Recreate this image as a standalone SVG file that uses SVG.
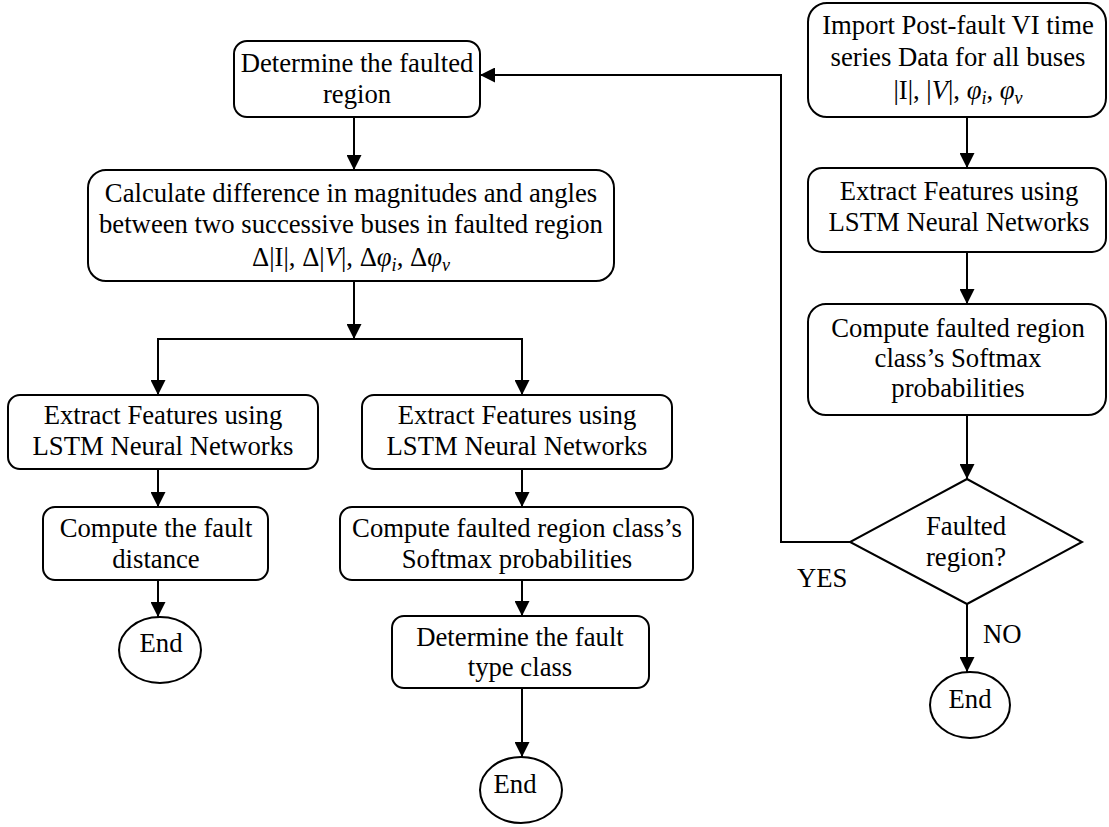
<svg xmlns="http://www.w3.org/2000/svg" width="1109" height="827" viewBox="0 0 1109 827">
<defs>
<style>
.box{fill:#fff;stroke:#000;stroke-width:2}
.t{font-family:"Liberation Serif","Times New Roman",serif;font-size:26.7px;fill:#000;text-anchor:middle}
.l{font-family:"Liberation Serif","Times New Roman",serif;font-size:26.7px;fill:#000}
.it{font-style:italic}
.sub{font-style:italic;font-size:18px}
.c{fill:none;stroke:#000;stroke-width:2}
</style>
<marker id="ah" markerUnits="userSpaceOnUse" markerWidth="15" markerHeight="15" refX="15" refY="7.5" orient="auto">
<path d="M0,0 L15,7.5 L0,15 Z" fill="#000"/>
</marker>
</defs>
<rect width="1109" height="827" fill="#fff"/>

<g id="connectors">
<line class="c" x1="354" y1="117" x2="354" y2="170" marker-end="url(#ah)"/>
<line class="c" x1="354" y1="281" x2="354" y2="339" marker-end="url(#ah)"/>
<polyline class="c" points="158,395 158,339 522,339 522,395"/>
<line class="c" x1="158" y1="339" x2="158" y2="395" marker-end="url(#ah)"/>
<line class="c" x1="522" y1="339" x2="522" y2="395" marker-end="url(#ah)"/>
<line class="c" x1="158" y1="469" x2="158" y2="507" marker-end="url(#ah)"/>
<line class="c" x1="158" y1="580" x2="158" y2="617" marker-end="url(#ah)"/>
<line class="c" x1="522" y1="469" x2="522" y2="507" marker-end="url(#ah)"/>
<line class="c" x1="522" y1="580" x2="522" y2="616" marker-end="url(#ah)"/>
<line class="c" x1="522" y1="688" x2="522" y2="757" marker-end="url(#ah)"/>
<line class="c" x1="967" y1="117" x2="967" y2="168" marker-end="url(#ah)"/>
<line class="c" x1="967" y1="252" x2="967" y2="304" marker-end="url(#ah)"/>
<line class="c" x1="967" y1="415" x2="967" y2="479" marker-end="url(#ah)"/>
<line class="c" x1="967" y1="604" x2="967" y2="672" marker-end="url(#ah)"/>
<polyline class="c" points="850,542 781,542 781,75 480,75" marker-end="url(#ah)"/>
<text class="l" x="797" y="587">YES</text>
<text class="l" x="983" y="643">NO</text>
</g>

<g id="n-determine-region">
<rect class="box" x="234" y="41" width="246" height="76" rx="13"/>
<text class="t" x="357" y="72">Determine the faulted</text>
<text class="t" x="357" y="103">region</text>
</g>

<g id="n-calculate">
<rect class="box" x="88" y="170" width="526" height="111" rx="18"/>
<text class="t" x="351" y="202">Calculate difference in magnitudes and angles</text>
<text class="t" x="351" y="233">between two successive buses in faulted region</text>
<text class="t" x="351" y="266">Δ|I|, Δ|<tspan class="it">V</tspan>|, Δ<tspan class="it">φ</tspan><tspan class="sub" dy="5">i</tspan><tspan dy="-5">, Δ</tspan><tspan class="it">φ</tspan><tspan class="sub" dy="5">v</tspan></text>
</g>

<g id="n-extract-left">
<rect class="box" x="8" y="395" width="310" height="74" rx="12"/>
<text class="t" x="163" y="424">Extract Features using</text>
<text class="t" x="163" y="455">LSTM Neural Networks</text>
</g>

<g id="n-fault-distance">
<rect class="box" x="43" y="507" width="225" height="73" rx="12"/>
<text class="t" x="156" y="537">Compute the fault</text>
<text class="t" x="156" y="568">distance</text>
</g>

<g id="n-end-left">
<ellipse class="box" cx="160" cy="650" rx="41" ry="33"/>
<text class="t" x="161" y="652">End</text>
</g>

<g id="n-extract-mid">
<rect class="box" x="362" y="395" width="310" height="74" rx="12"/>
<text class="t" x="517" y="424">Extract Features using</text>
<text class="t" x="517" y="455">LSTM Neural Networks</text>
</g>

<g id="n-softmax-mid">
<rect class="box" x="340" y="507" width="353" height="73" rx="12"/>
<text class="t" x="517" y="537">Compute faulted region class’s</text>
<text class="t" x="517" y="568">Softmax probabilities</text>
</g>

<g id="n-fault-type">
<rect class="box" x="392" y="616" width="257" height="72" rx="12"/>
<text class="t" x="520" y="646">Determine the fault</text>
<text class="t" x="520" y="676">type class</text>
</g>

<g id="n-end-mid">
<ellipse class="box" cx="521" cy="790" rx="41" ry="33"/>
<text class="t" x="515" y="793">End</text>
</g>

<g id="n-import">
<rect class="box" x="808" y="3" width="298" height="114" rx="19"/>
<text class="t" x="958" y="34">Import Post-fault VI time</text>
<text class="t" x="958" y="66">series Data for all buses</text>
<text class="t" x="958" y="99">|I|, |<tspan class="it">V</tspan>|, <tspan class="it">φ</tspan><tspan class="sub" dy="5">i</tspan><tspan dy="-5">, </tspan><tspan class="it">φ</tspan><tspan class="sub" dy="5">v</tspan></text>
</g>

<g id="n-extract-right">
<rect class="box" x="808" y="168" width="298" height="84" rx="14"/>
<text class="t" x="959" y="200">Extract Features using</text>
<text class="t" x="959" y="231">LSTM Neural Networks</text>
</g>

<g id="n-softmax-right">
<rect class="box" x="808" y="304" width="298" height="111" rx="18"/>
<text class="t" x="958" y="337">Compute faulted region</text>
<text class="t" x="958" y="367">class’s Softmax</text>
<text class="t" x="958" y="397">probabilities</text>
</g>

<g id="n-decision">
<polygon class="box" points="967,479 1082,542 967,604 850,542"/>
<text class="t" x="966" y="535">Faulted</text>
<text class="t" x="966" y="566">region?</text>
</g>

<g id="n-end-right">
<ellipse class="box" cx="970" cy="705" rx="40" ry="33"/>
<text class="t" x="970" y="708">End</text>
</g>
</svg>
